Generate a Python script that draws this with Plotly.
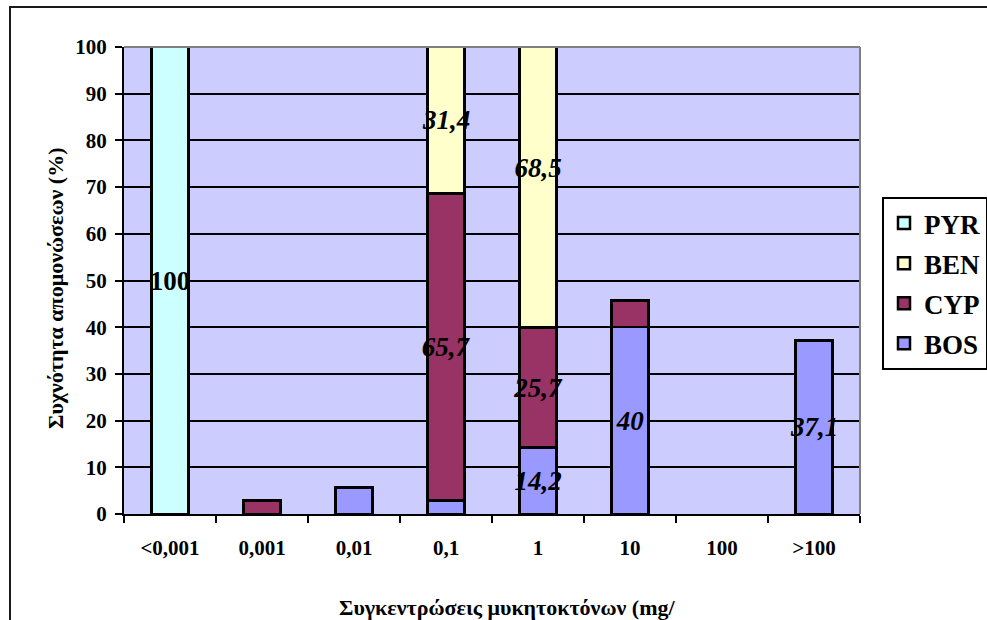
import plotly.graph_objects as go

# Fungicide concentration classes (x axis)
categories = ["<0,001", "0,001", "0,01", "0,1", "1", "10", "100", ">100"]

# Share of isolates (%) per fungicide and concentration class
bos = [None, None, 5.7, 2.9, 14.2, 40, None, 37.1]
cyp = [None, 2.9, None, 65.7, 25.7, 5.7, None, None]
ben = [None, None, None, 31.4, 68.5, None, None, None]
pyr = [100, None, None, None, None, None, None, None]

# Which segments carry a value label
bos_labelled = [False, False, False, False, True, True, False, True]
cyp_labelled = [False, False, False, True, True, False, False, False]
ben_labelled = [False, False, False, True, True, False, False, False]
pyr_labelled = [True, False, False, False, False, False, False, False]

y_ticks = [0, 10, 20, 30, 40, 50, 60, 70, 80, 90, 100]

x_title = "Συγκεντρώσεις μυκητοκτόνων (mg/"
y_title = "Συχνότητα απομονώσεων (%)"

FONT = "Liberation Serif"
W, H = 987, 620
L, R, T, B = 124, 127, 47, 106
PW, PH = W - L - R, H - T - B


def px_x(x):
    return (x - L) / PW


def px_y(y):
    return (H - B - y) / PH


def fmt(v):
    return f"{v:g}".replace(".", ",")


def labels(vals, flags):
    return [fmt(v) if (f and v is not None) else "" for v, f in zip(vals, flags)]


# name, values, label flags, fill colour, label style, legend rank
series = [
    ("BOS", bos, bos_labelled, "#9999FF", "italic", 4),
    ("CYP", cyp, cyp_labelled, "#993366", "italic", 3),
    ("BEN", ben, ben_labelled, "#FFFFCC", "italic", 2),
    ("PYR", pyr, pyr_labelled, "#CCFFFF", "normal", 1),
]

fig = go.Figure()
for name, vals, flags, color, style, rank in series:
    fig.add_trace(go.Bar(
        name=name,
        x=categories,
        y=vals,
        text=labels(vals, flags),
        textposition="inside",
        insidetextanchor="middle",
        textangle=0,
        constraintext="none",
        textfont=dict(family=FONT, size=27, color="black", weight="bold", style=style),
        marker=dict(color=color, line=dict(color="black", width=2.5)),
        legendgroup=name,
        legendrank=rank,
        hoverinfo="skip",
    ))

shapes = [
    # outer chart frame
    dict(type="rect", xref="paper", yref="paper",
         x0=px_x(10), y0=px_y(640), x1=px_x(1000), y1=px_y(7),
         line=dict(color="#1a1a1a", width=2), layer="below"),
    # plot area top and right edges
    dict(type="line", xref="paper", yref="paper", x0=0, y0=1, x1=1, y1=1,
         line=dict(color="#808080", width=2)),
    dict(type="line", xref="paper", yref="paper", x0=1, y0=0, x1=1, y1=1,
         line=dict(color="#808080", width=2)),
]

title_font = dict(family=FONT, size=22, weight="bold", color="black")
annotations = [
    dict(text=x_title, xref="paper", yref="paper",
         x=px_x(507), y=px_y(607), xanchor="center", yanchor="middle",
         showarrow=False, font=title_font),
    dict(text=y_title, xref="paper", yref="paper",
         x=px_x(55), y=px_y(288), xanchor="center", yanchor="middle",
         textangle=-90, showarrow=False, font=title_font),
]

fig.update_layout(
    width=W, height=H,
    margin=dict(l=L, r=R, t=T, b=B, pad=0, autoexpand=False),
    paper_bgcolor="white",
    plot_bgcolor="#CCCCFF",
    barmode="stack",
    bargap=0.6,
    font=dict(family=FONT, color="black"),
    shapes=shapes,
    annotations=annotations,
    legend=dict(
        x=px_x(882), y=px_y(197), xanchor="left", yanchor="top",
        bgcolor="white", bordercolor="black", borderwidth=2,
        font=dict(family=FONT, size=27, weight="bold", color="black"),
        traceorder="grouped", tracegroupgap=2,
    ),
    xaxis=dict(
        type="category",
        tickson="boundaries",
        ticks="outside", ticklen=7, tickwidth=2, tickcolor="black",
        showline=True, linecolor="black", linewidth=2,
        showgrid=False,
        tickfont=dict(family=FONT, size=21, weight="bold", color="black"),
        ticklabelstandoff=14,
    ),
    yaxis=dict(
        range=[0, 100],
        tickvals=y_ticks,
        ticks="outside", ticklen=7, tickwidth=2, tickcolor="black",
        showline=True, linecolor="black", linewidth=2,
        showgrid=True, gridcolor="black", gridwidth=2,
        zeroline=False,
        tickfont=dict(family=FONT, size=21, weight="bold", color="black"),
        ticklabelstandoff=4,
    ),
)

fig.write_html("out.html")
